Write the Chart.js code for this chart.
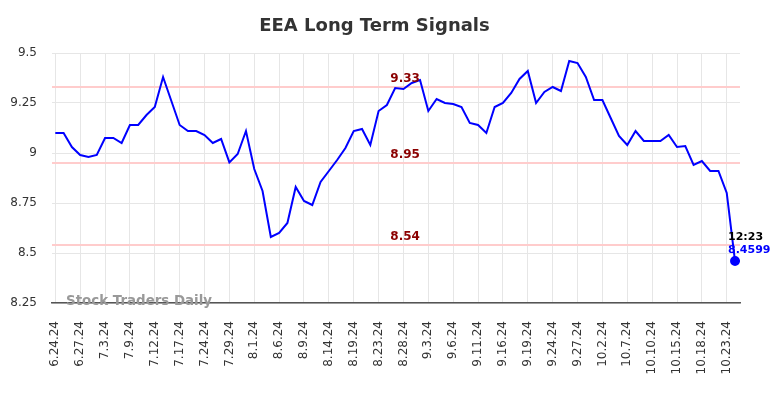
<!DOCTYPE html>
<html lang="en">
<head>
  <meta charset="UTF-8" />
  <title>EEA Long Term Signals</title>
  <script src="https://cdn.jsdelivr.net/npm/chart.js"></script>
  <style>
    html, body { margin: 0; padding: 0; background: #fff; }
    #wrap { width: 784px; height: 398px; position: relative; }
  </style>
</head>
<body>
  <div id="wrap"><canvas id="sig"></canvas></div>

  <script>
    // tick labels, one every 3 sessions
    const dateLabels = ['6.24.24','6.27.24','7.3.24','7.9.24','7.12.24','7.17.24','7.24.24',
      '7.29.24','8.1.24','8.6.24','8.9.24','8.14.24','8.19.24','8.23.24','8.28.24','9.3.24',
      '9.6.24','9.11.24','9.16.24','9.19.24','9.24.24','9.27.24','10.2.24','10.7.24',
      '10.10.24','10.15.24','10.18.24','10.23.24'];

    const yTicks = [8.25, 8.5, 8.75, 9, 9.25, 9.5];

    // closing prices
    const closes = [9.10, 9.10, 9.03, 8.99, 8.98, 8.99, 9.075, 9.075, 9.05, 9.14,
      9.14, 9.19, 9.23, 9.38, 9.26, 9.14, 9.11, 9.11, 9.09, 9.05,
      9.07, 8.953, 8.995, 9.11, 8.92, 8.81, 8.58, 8.60, 8.65, 8.83,
      8.76, 8.74, 8.855, 8.91, 8.965, 9.025, 9.11, 9.12, 9.04, 9.21,
      9.24, 9.325, 9.32, 9.35, 9.365, 9.21, 9.27, 9.25, 9.245, 9.23,
      9.15, 9.14, 9.10, 9.23, 9.25, 9.30, 9.37, 9.41, 9.25, 9.305,
      9.33, 9.31, 9.46, 9.45, 9.38, 9.265, 9.265, 9.175, 9.085, 9.04,
      9.11, 9.06, 9.06, 9.06, 9.09, 9.03, 9.035, 8.94, 8.96, 8.91,
      8.91, 8.80, 8.4599];

    const levels = [9.33, 8.95, 8.54];
    const lastTime = '12:23';
    const lastLabel = '8.4599';

    const X_MIN = -0.4, X_MAX = closes.length - 1 + 0.6;

    Chart.defaults.font.family = 'DejaVu Sans';
    Chart.defaults.color = '#333';

    const lastIdx = closes.length - 1;

    const datasets = [{
      data: closes.map((v, i) => ({ x: i, y: v })),
      borderColor: '#0000ff',
      backgroundColor: '#0000ff',
      borderWidth: 2,
      tension: 0,
      pointRadius: ctx => ctx.dataIndex === lastIdx ? 4 : 0,
      pointHoverRadius: 0
    }];
    levels.forEach(l => datasets.push({
      data: [{ x: X_MIN, y: l }, { x: X_MAX, y: l }],
      borderColor: '#ffcccc',
      borderWidth: 2,
      pointRadius: 0
    }));

    // title, watermark, level labels, last point label
    const decor = {
      id: 'decor',
      afterDatasetsDraw(chart) {
        const c = chart.ctx, xs = chart.scales.x, ys = chart.scales.y;
        c.save();
        c.textAlign = 'center';
        c.textBaseline = 'middle';
        c.fillStyle = '#333';
        c.font = 'bold 18px "DejaVu Sans"';
        c.fillText('EEA Long Term Signals', 374.5, 26);

        c.fillStyle = '#999';
        c.font = 'bold 13.4px "DejaVu Sans"';
        c.textAlign = 'left';
        c.fillText('Stock Traders Daily', 66, 302);

        c.textAlign = 'center';
        c.textBaseline = 'bottom';
        c.fillStyle = '#8b0000';
        c.font = 'bold 12px "DejaVu Sans"';
        levels.forEach(l => {
          c.fillText(l.toFixed(2), xs.getPixelForValue(42.2), ys.getPixelForValue(l) - 2);
        });

        const px = xs.getPixelForValue(lastIdx), py = ys.getPixelForValue(closes[lastIdx]);
        c.textAlign = 'left';
        c.textBaseline = 'middle';
        c.font = 'bold 11px "DejaVu Sans"';
        c.fillStyle = '#000';
        c.fillText(lastTime, px - 7, py - 24);
        c.fillStyle = '#0000ff';
        c.fillText(lastLabel, px - 7, py - 11);
        c.restore();
      }
    };

    new Chart(document.getElementById('sig'), {
      type: 'line',
      data: { datasets },
      options: {
        responsive: true,
        maintainAspectRatio: false,
        animation: false,
        layout: { padding: { top: 53, right: 44, left: 0, bottom: 0 } },
        plugins: { legend: { display: false }, tooltip: { enabled: false } },
        scales: {
          x: {
            type: 'linear',
            min: X_MIN, max: X_MAX,
            afterBuildTicks: s => { s.ticks = dateLabels.map((_, k) => ({ value: k * 3 })); },
            afterFit: s => { s.height = 95; },
            ticks: {
              autoSkip: false, maxRotation: 90, minRotation: 90,
              padding: 18,
              font: { size: 12 }, color: '#333',
              callback: v => dateLabels[Math.round(v / 3)]
            },
            grid: { color: '#e6e6e6', drawTicks: false },
            border: { color: '#555', width: 1.5 }
          },
          y: {
            min: 8.25, max: 9.5,
            afterBuildTicks: s => { s.ticks = yTicks.map(v => ({ value: v })); },
            afterFit: s => { s.width = 52; },
            ticks: {
              padding: 15, font: { size: 12 }, color: '#333',
              callback: v => String(+v.toFixed(2))
            },
            grid: { color: '#e6e6e6', drawTicks: false },
            border: { display: false }
          }
        }
      },
      plugins: [decor]
    });
  </script>
</body>
</html>
